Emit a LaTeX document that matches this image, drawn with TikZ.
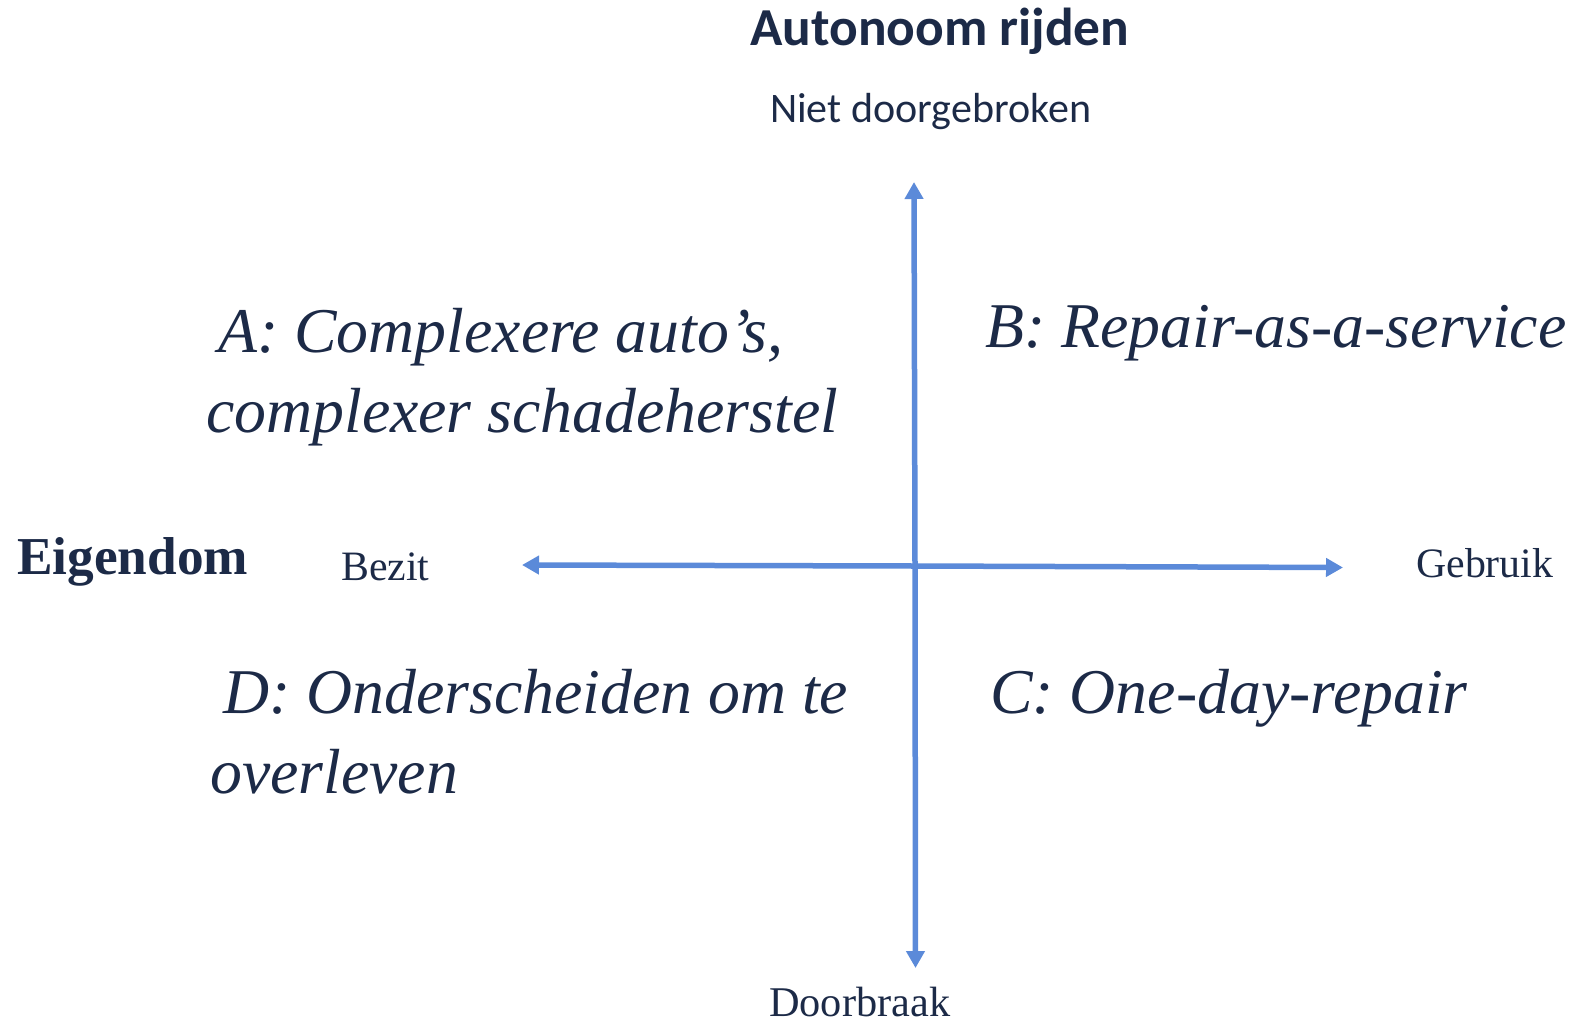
\documentclass[tikz,border=0pt]{standalone}
\usepackage{fontspec}
\setmainfont{Liberation Serif}
\newfontfamily\calib{Carlito}
\usetikzlibrary{arrows.meta}
\definecolor{navy}{HTML}{1C2A47}
\definecolor{axisblue}{HTML}{5B8AD9}
\tikzset{
  lbl/.style={anchor=base west, inner sep=0pt, text=navy},
  axisarrow/.style={draw=axisblue, line width=5.5bp, -{Triangle[width=18bp,length=17bp]}},
  quad/.style={lbl, font=\fontsize{64}{80}\selectfont\itshape, align=left},
}
\begin{document}
\begin{tikzpicture}[x=1bp,y=-1bp]
\useasboundingbox (0,0) rectangle (1578,1024);
% axes
\coordinate (c) at (915,566);
\coordinate (top) at (914,182);
\coordinate (bot) at (915.5,968);
\coordinate (lft) at (522,565);
\coordinate (rgt) at (1343,567.5);
\draw[axisarrow] (c) -- (top);
\draw[axisarrow] (c) -- (bot);
\draw[axisarrow] (c) -- (lft);
\draw[axisarrow] (c) -- (rgt);
% titles
\node[lbl, font=\calib\bfseries\fontsize{53.6}{60}\selectfont] (t1) at (750,45) {Autonoom rijden};
\node[lbl, font=\calib\fontsize{42.2}{50}\selectfont] (t2) at (770,122) {Niet doorgebroken};
\node[lbl, font=\bfseries\fontsize{53.5}{60}\selectfont] (t3) at (17,574) {Eigendom};
\node[lbl, font=\fontsize{42}{50}\selectfont] (t4) at (341,580) {Bezit};
\node[lbl, font=\fontsize{42}{50}\selectfont] (t5) at (1416,577) {Gebruik};
\node[lbl, font=\fontsize{42.5}{50}\selectfont] (t6) at (769,1016) {Doorbraak};
% quadrants
\node[quad] (qa1) at (218,352) {A: Complexere auto’s,};
\node[quad] (qa2) at (206,432) {complexer schadeherstel};
\node[quad] (qb) at (985,347) {B: Repair-as-a-service};
\node[quad] (qd1) at (223,713) {D: Onderscheiden om te};
\node[quad] (qd2) at (210,793) {overleven};
\node[quad] (qc) at (990,713) {C: One-day-repair};
\end{tikzpicture}
\end{document}
